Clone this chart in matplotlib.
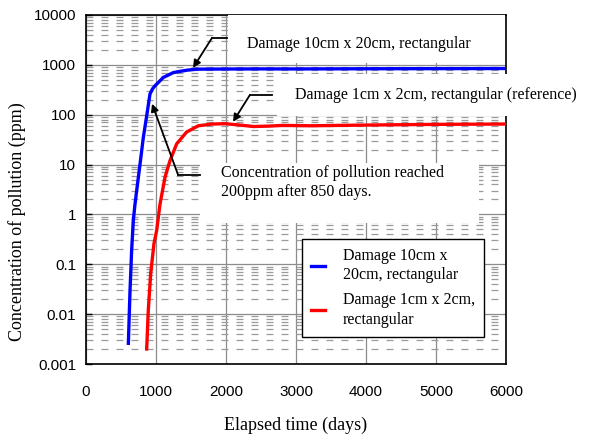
import matplotlib
matplotlib.use("Agg")
import matplotlib.pyplot as plt
from matplotlib.patches import Rectangle
from matplotlib.lines import Line2D

plt.rcParams["font.family"] = ["Liberation Serif", "DejaVu Serif"]
plt.rcParams["lines.scale_dashes"] = False

# 数据：曲线点（天, ppm）
days_blue = [605, 629, 652, 676, 700, 724, 771, 819, 867, 914, 950, 986,
             1105, 1248, 1438, 1581, 2000, 2500, 3000, 3500,
             4000, 4500, 5000, 5500, 6000]
conc_blue = [0.0026, 0.03, 0.19, 0.76, 1.6, 3.0, 10, 35, 95, 260, 330, 380,
             560, 700, 780, 820, 825, 830, 828, 832,
             835, 838, 840, 842, 845]

days_red = [867, 890, 924, 971, 1010, 1057, 1129, 1200, 1295, 1438, 1605,
            1800, 1986, 2200, 2390, 2600, 2814, 3200, 4000, 5000, 6000]
conc_red = [0.002, 0.012, 0.065, 0.26, 0.48, 1.6, 5.6, 12, 26, 45, 60,
            65, 66, 62, 58, 59, 61, 60, 62, 64, 65]

label_blue = "Damage 10cm x\n20cm, rectangular"
label_red = "Damage 1cm x 2cm,\nrectangular"

x_ticks = [0, 1000, 2000, 3000, 4000, 5000, 6000]
y_ticks = [0.001, 0.01, 0.1, 1, 10, 100, 1000, 10000]
y_ticklabels = ["0.001", "0.01", "0.1", "1", "10", "100", "1000", "10000"]

fig = plt.figure(figsize=(6.05, 4.41), dpi=100)
ax = fig.add_axes([86 / 605, 77 / 441, 420 / 605, 349 / 441])

ax.set_yscale("log")
ax.set_xlim(0, 6000)
ax.set_ylim(0.001, 10000)

# 网格：主刻度实线，次刻度虚线
ax.set_xticks(x_ticks)
ax.set_yticks(y_ticks)
ax.set_yticklabels(y_ticklabels)
ax.grid(True, which="major", color="#8c8c8c", lw=0.9, ls="-", zorder=0)
ax.yaxis.grid(True, which="minor", color="#9a9a9a", lw=0.9,
              ls=(0, (5.0, 5.8)), zorder=0)
ax.set_axisbelow(True)
ax.tick_params(axis="y", which="major", direction="in", length=4, width=1,
               labelsize=11, pad=7)
ax.tick_params(axis="y", which="minor", length=0)
ax.tick_params(axis="x", length=0, labelsize=11, pad=15)
for lab in ax.get_xticklabels() + ax.get_yticklabels():
    lab.set_family(["Liberation Sans", "DejaVu Sans"])
for sp in ax.spines.values():
    sp.set_linewidth(1.2)

ax.plot(days_blue, conc_blue, color="#0000ff", lw=2.4, label=label_blue, zorder=3)
ax.plot(days_red, conc_red, color="#ff0000", lw=2.4, label=label_red, zorder=3)

# 白色文字框（遮住网格）
for (x0, y0, w, h) in [(0.338, 0.862, 0.66, 0.137),
                       (0.455, 0.711, 0.80, 0.12),
                       (0.271, 0.404, 0.665, 0.172)]:
    ax.add_patch(Rectangle((x0, y0), w, h, transform=ax.transAxes,
                           facecolor="white", edgecolor="none",
                           zorder=2.6, clip_on=False))

fs = 11.5
ax.text(0.383, 0.917, "Damage 10cm x 20cm, rectangular", transform=ax.transAxes,
        fontsize=fs, va="center", zorder=4)
ax.text(0.498, 0.77, "Damage 1cm x 2cm, rectangular (reference)",
        transform=ax.transAxes, fontsize=fs, va="center", zorder=4, clip_on=False)
ax.text(0.321, 0.52, "Concentration of pollution reached\n200ppm after 850 days.",
        transform=ax.transAxes, fontsize=fs, va="center", linespacing=1.25,
        zorder=4)

# 折线箭头：先横线，再斜线指向曲线
arrows = [((2014, 3467), (1800, 3467), (1529, 871)),
          ((2657, 251), (2343, 251), (2100, 72)),
          ((1629, 6.3), (1314, 6.3), (943, 166))]
for start, corner, tip in arrows:
    ax.add_line(Line2D([start[0], corner[0]], [start[1], corner[1]],
                       color="black", lw=1.3, zorder=4))
    ax.annotate("", xy=tip, xytext=corner,
                arrowprops=dict(arrowstyle="-|>", color="black", lw=1.3,
                                mutation_scale=11, shrinkA=0, shrinkB=0),
                zorder=4)

leg = ax.legend(loc="upper left", bbox_to_anchor=(216 / 420, 125 / 349),
                borderaxespad=0, fontsize=11.5, frameon=True, fancybox=False,
                framealpha=1, edgecolor="black", handlelength=0.9,
                handletextpad=1.1, borderpad=0.55, labelspacing=0.55)
leg.get_frame().set_linewidth(1.0)
for t in leg.get_texts():
    t.set_linespacing(1.3)
leg.set_zorder(5)

ax.set_ylabel("Concentration of pollution (ppm)", fontsize=13)
ax.yaxis.set_label_coords(-0.142, 0.407)
ax.set_xlabel("Elapsed time (days)", fontsize=13)
ax.xaxis.set_label_coords(0.5, -0.152)

fig.savefig("out.png", dpi=100)
